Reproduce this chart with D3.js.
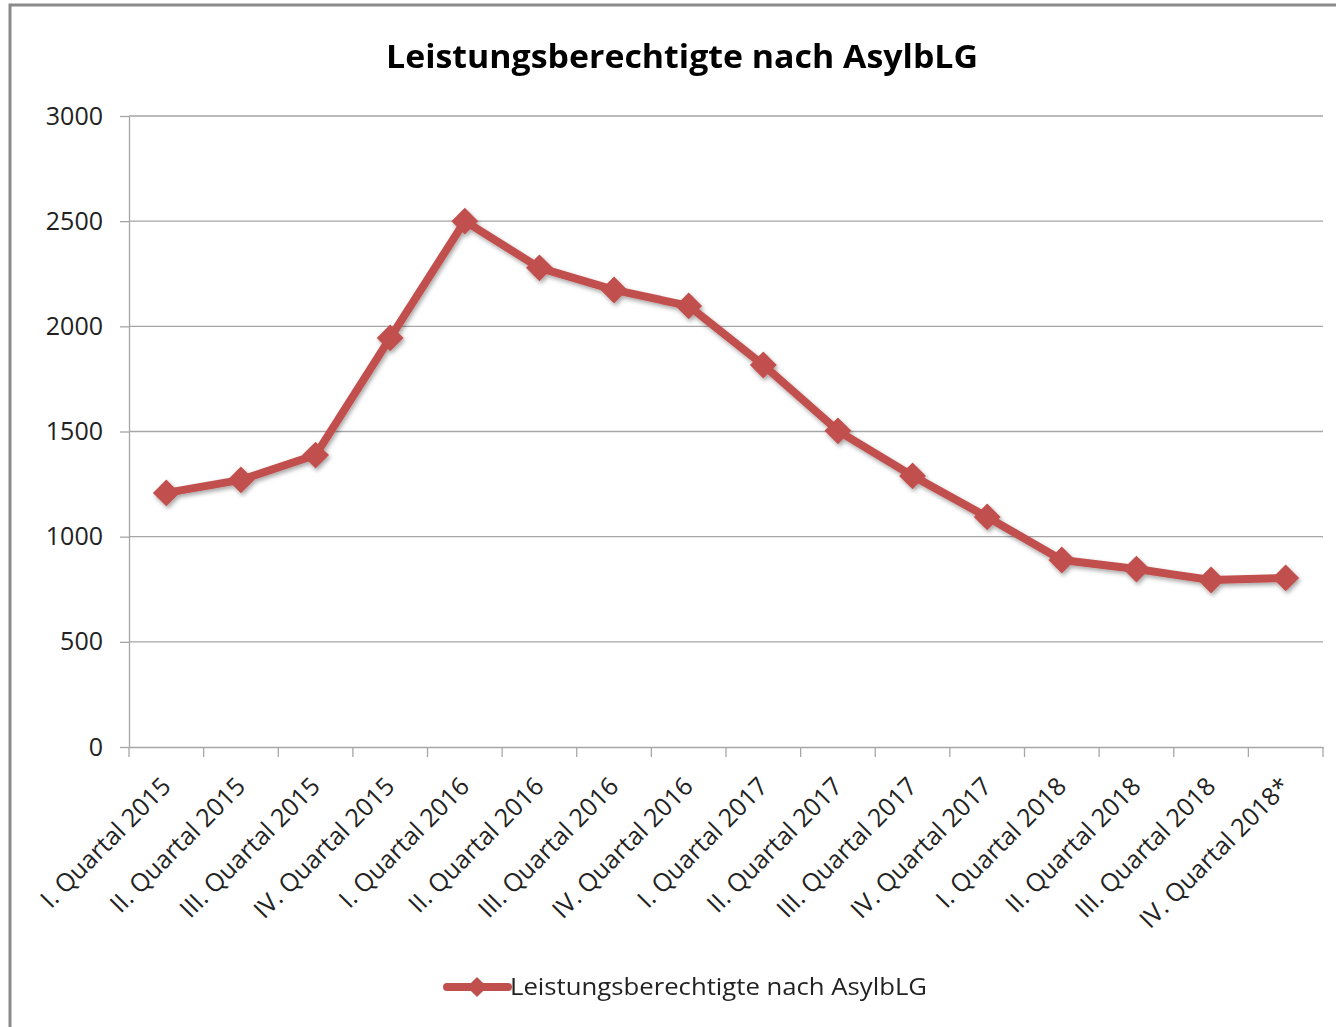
<!DOCTYPE html>
<html><head><meta charset="utf-8">
<script src="https://cdn.jsdelivr.net/npm/d3@7"></script>
<style>body{margin:0;background:#fff}svg{display:block}</style>
</head><body>
<svg id="c" width="1336" height="1027"></svg>
<script>
const chartTitle = "Leistungsberechtigte nach AsylbLG";
const seriesName = "Leistungsberechtigte nach AsylbLG";
const categories = ["I. Quartal 2015","II. Quartal 2015","III. Quartal 2015","IV. Quartal 2015",
  "I. Quartal 2016","II. Quartal 2016","III. Quartal 2016","IV. Quartal 2016",
  "I. Quartal 2017","II. Quartal 2017","III. Quartal 2017","IV. Quartal 2017",
  "I. Quartal 2018","II. Quartal 2018","III. Quartal 2018","IV. Quartal 2018*"];
const values = [1208, 1270, 1388, 1945, 2500, 2278, 2173, 2097, 1816, 1503, 1289, 1094, 889, 846, 794, 804];
const yTicks = [0, 500, 1000, 1500, 2000, 2500, 3000];

const svg = d3.select("#c");
const font = "Open Sans, Liberation Sans, sans-serif";
const color = "#C0504D";

// outer border
svg.append("rect").attr("x",10).attr("y",5).attr("width",1340).attr("height",1040)
  .attr("fill","none").attr("stroke","#8a8a8a").attr("stroke-width",3);

const defs = svg.append("defs");
const f = defs.append("filter").attr("id","sh").attr("x","-50%").attr("y","-50%").attr("width","200%").attr("height","200%");
f.append("feDropShadow").attr("dx",1.5).attr("dy",2.5).attr("stdDeviation",2).attr("flood-color","#000").attr("flood-opacity",0.35);

const x = d3.scaleBand().domain(categories).range([129, 1323]);
const y = d3.scaleLinear().domain([0, 3000]).range([747, 116]);

// gridlines
svg.append("g").selectAll("line").data(yTicks.filter(d=>d>0)).join("line")
  .attr("x1",129).attr("x2",1323).attr("y1",d=>y(d)).attr("y2",d=>y(d))
  .attr("stroke","#a6a6a6").attr("stroke-width",1.3);

// y axis
const yAxis = svg.append("g").attr("transform","translate(129,0)")
  .call(d3.axisLeft(y).tickValues(yTicks).tickFormat(d3.format("d")).tickSize(9).tickPadding(17).tickSizeOuter(0));
yAxis.select(".domain").attr("stroke","#a6a6a6").attr("stroke-width",1.3);
yAxis.selectAll(".tick line").attr("stroke","#a6a6a6").attr("stroke-width",1.3);
yAxis.selectAll(".tick text").attr("font-family",font).attr("font-size",25).attr("fill","#222");

// x axis
const xAxis = svg.append("g").attr("transform","translate(0,747)")
  .call(d3.axisBottom(x).tickSize(0).tickSizeOuter(0));
xAxis.select(".domain").attr("stroke","#a6a6a6").attr("stroke-width",1.3);
xAxis.selectAll(".tick text").remove();
// tick marks at band boundaries
const bounds = categories.map(c=>x(c)).concat([x.range()[1]]);
svg.append("g").selectAll("line").data(bounds).join("line")
  .attr("x1",d=>d).attr("x2",d=>d).attr("y1",747).attr("y2",757)
  .attr("stroke","#a6a6a6").attr("stroke-width",1.3);
// rotated labels
svg.append("g").selectAll("text").data(categories).join("text")
  .attr("transform",d=>`translate(${x(d)+x.bandwidth()/2+6},${788}) rotate(-45)`)
  .attr("text-anchor","end").attr("font-family",font).attr("font-size",25).attr("fill","#222")
  .text(d=>d);

// line
const line = d3.line().x((d,i)=>x(categories[i])+x.bandwidth()/2).y(d=>y(d));
const g = svg.append("g").attr("filter","url(#sh)");
g.append("path").datum(values).attr("d",line).attr("fill","none")
  .attr("stroke",color).attr("stroke-width",8).attr("stroke-linejoin","round");
g.selectAll("path.m").data(values).join("path").attr("class","m")
  .attr("d",d3.symbol().type(d3.symbolDiamond2).size(460))
  .attr("transform",(d,i)=>`translate(${x(categories[i])+x.bandwidth()/2},${y(d)})`)
  .attr("fill",color);

// title
svg.append("text").attr("x",682).attr("y",68).attr("text-anchor","middle")
  .attr("font-family",font).attr("font-weight","bold").attr("font-size",32).attr("fill","#000")
  .attr("textLength",592).attr("lengthAdjust","spacingAndGlyphs").text(chartTitle);

// legend
const lg = svg.append("g");
lg.append("line").attr("x1",447).attr("x2",508).attr("y1",987).attr("y2",987)
  .attr("stroke",color).attr("stroke-width",8).attr("stroke-linecap","round");
lg.append("path").attr("d",d3.symbol().type(d3.symbolDiamond2).size(260))
  .attr("transform","translate(477,987)").attr("fill",color);
lg.append("text").attr("x",510).attr("y",995).attr("font-family",font).attr("font-size",24)
  .attr("fill","#222").attr("textLength",417).attr("lengthAdjust","spacingAndGlyphs").text(seriesName);
</script>
</body></html>
